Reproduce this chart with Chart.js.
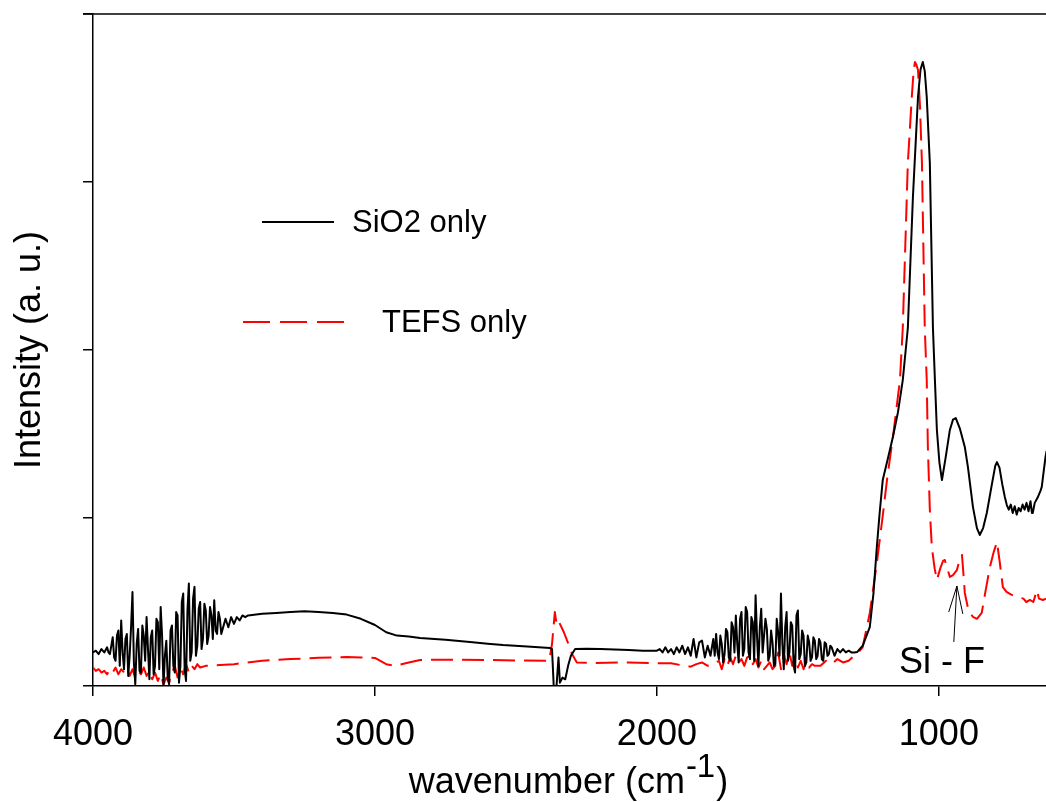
<!DOCTYPE html>
<html>
<head>
<meta charset="utf-8">
<script src="https://cdn.jsdelivr.net/npm/chart.js@4"></script>
<style>
  html, body { margin: 0; padding: 0; background: #fff; }
  canvas { display: block; }
</style>
</head>
<body>
<canvas id="grafica" width="1046" height="802"></canvas>
<script>
// SiO2 only (línea negra): [número de onda, intensidad]
const sio2Data = [
  [4000, 0.20], [3990, 0.21], [3980, 0.19], [3970, 0.22], [3960, 0.20], [3950, 0.23], [3945, 0.20],
  [3940, 0.19], [3935, 0.24], [3930, 0.29], [3925, 0.17], [3920, 0.15], [3915, 0.30], [3910, 0.33], [3905, 0.12],
  [3900, 0.39], [3895, 0.20], [3890, 0.10], [3885, 0.28], [3880, 0.31], [3875, 0.06], [3870, 0.18], [3865, 0.35],
  [3860, 0.56], [3855, 0.14], [3850, 0.01], [3845, 0.25], [3840, 0.34], [3835, 0.09], [3830, 0.08], [3825, 0.36],
  [3820, 0.30], [3815, 0.15], [3810, 0.41], [3805, 0.22], [3800, 0.04], [3795, 0.29], [3790, 0.33], [3785, 0.07],
  [3780, 0.12], [3775, 0.40], [3770, 0.38], [3765, 0.10], [3760, 0.47], [3755, 0.30], [3750, 0.00], [3745, 0.18],
  [3740, 0.27], [3735, 0.05], [3730, 0.01], [3725, 0.33], [3720, 0.36], [3715, 0.12], [3710, 0.08], [3705, 0.44],
  [3700, 0.42], [3695, 0.02], [3690, 0.12], [3685, 0.50], [3680, 0.55], [3675, 0.10], [3670, 0.03], [3665, 0.45],
  [3660, 0.61], [3655, 0.15], [3650, 0.20], [3645, 0.52], [3640, 0.59], [3635, 0.18], [3630, 0.24], [3625, 0.46],
  [3620, 0.50], [3615, 0.22], [3610, 0.28], [3605, 0.49], [3600, 0.45], [3595, 0.25], [3590, 0.30], [3585, 0.47],
  [3580, 0.42], [3575, 0.28], [3570, 0.51], [3565, 0.33], [3560, 0.31], [3555, 0.44], [3550, 0.40], [3545, 0.31],
  [3540, 0.34], [3530, 0.40], [3520, 0.35], [3510, 0.41], [3500, 0.37], [3490, 0.41], [3480, 0.39], [3470, 0.42],
  [3460, 0.41], [3450, 0.42], [3400, 0.43], [3350, 0.435], [3300, 0.44], [3250, 0.445], [3200, 0.44], [3150, 0.435],
  [3100, 0.425], [3050, 0.40], [3000, 0.363], [2960, 0.32], [2922, 0.30], [2880, 0.295], [2840, 0.286], [2750, 0.275],
  [2663, 0.262], [2600, 0.252], [2546, 0.244], [2460, 0.235], [2379, 0.226], [2372, 0.22], [2366, 0.0], [2356, 0.0],
  [2349, 0.17], [2344, 0.02], [2335, 0.05], [2325, 0.04], [2315, 0.12], [2305, 0.18], [2290, 0.22], [2250, 0.222],
  [2200, 0.22], [2100, 0.215], [2050, 0.21],
  [2000, 0.21], [1990, 0.22], [1980, 0.20], [1970, 0.23], [1960, 0.20], [1950, 0.22], [1940, 0.19], [1930, 0.23],
  [1920, 0.20], [1910, 0.24], [1900, 0.19], [1890, 0.23], [1880, 0.18], [1870, 0.28], [1860, 0.17], [1850, 0.26],
  [1840, 0.27], [1830, 0.17], [1820, 0.24], [1810, 0.18],
  [1800, 0.28], [1795, 0.18], [1790, 0.31], [1785, 0.20], [1780, 0.16], [1775, 0.30], [1770, 0.25], [1765, 0.14],
  [1760, 0.19], [1755, 0.34], [1750, 0.32], [1745, 0.17], [1740, 0.15], [1735, 0.38], [1730, 0.35], [1725, 0.20],
  [1720, 0.42], [1715, 0.25], [1710, 0.14], [1705, 0.40], [1700, 0.44], [1695, 0.18], [1690, 0.22], [1685, 0.47],
  [1680, 0.44], [1675, 0.20], [1670, 0.16], [1665, 0.41], [1660, 0.38], [1655, 0.15], [1650, 0.54], [1645, 0.30],
  [1640, 0.12], [1635, 0.35], [1630, 0.46], [1625, 0.20], [1620, 0.30], [1615, 0.40], [1610, 0.34], [1605, 0.15],
  [1600, 0.18], [1595, 0.33], [1590, 0.26], [1585, 0.12], [1580, 0.13], [1575, 0.40], [1570, 0.32], [1565, 0.18],
  [1560, 0.55], [1555, 0.25], [1550, 0.10], [1545, 0.35], [1540, 0.44], [1535, 0.15], [1530, 0.20], [1525, 0.38],
  [1520, 0.36], [1515, 0.12], [1510, 0.08], [1505, 0.42], [1500, 0.45], [1495, 0.16], [1490, 0.19], [1485, 0.33],
  [1480, 0.30], [1475, 0.12], [1470, 0.14], [1465, 0.30], [1460, 0.26], [1455, 0.15], [1450, 0.17], [1445, 0.29],
  [1440, 0.27], [1435, 0.16], [1430, 0.18], [1425, 0.28], [1420, 0.26], [1415, 0.16], [1410, 0.15], [1405, 0.26],
  [1400, 0.25], [1395, 0.18], [1390, 0.19], [1385, 0.24], [1380, 0.23],
  [1370, 0.18], [1360, 0.22], [1350, 0.20], [1340, 0.22], [1330, 0.20], [1320, 0.21], [1310, 0.20], [1300, 0.20],
  [1290, 0.202], [1270, 0.24], [1245, 0.351], [1232, 0.55], [1220, 0.827], [1210, 1.03], [1199, 1.226], [1180, 1.36],
  [1163, 1.482], [1145, 1.63], [1128, 1.821], [1110, 2.131], [1092, 2.911], [1074, 3.506], [1065, 3.67], [1057, 3.714],
  [1050, 3.66], [1043, 3.506], [1032, 3.113], [1021, 2.131], [1014, 1.821], [1007, 1.524], [998, 1.33], [989, 1.226],
  [975, 1.37], [961, 1.524], [950, 1.585], [940, 1.595], [925, 1.53], [908, 1.423], [897, 1.304], [879, 1.065],
  [865, 0.94], [855, 0.899], [843, 0.94], [830, 1.03], [812, 1.2], [800, 1.31], [794, 1.333], [785, 1.30],
  [775, 1.2], [766, 1.125], [759, 1.077], [752, 1.05], [745, 1.08], [738, 1.03], [731, 1.07], [724, 1.02],
  [717, 1.06], [710, 1.04], [703, 1.08], [696, 1.05], [689, 1.09], [682, 1.04], [675, 1.10], [670, 1.03],
  [667, 1.03], [660, 1.09], [650, 1.12], [640, 1.16], [635, 1.185], [628, 1.28], [622, 1.36], [618, 1.40]
];

// TEFS only (línea roja discontinua)
const tefsData = [
  [4000, 0.11], [3990, 0.09], [3980, 0.10], [3970, 0.08], [3960, 0.09], [3950, 0.07], [3940, 0.10], [3930, 0.08],
  [3920, 0.11], [3910, 0.07], [3900, 0.10], [3890, 0.08], [3880, 0.11], [3870, 0.06], [3860, 0.10], [3850, 0.05],
  [3840, 0.09], [3830, 0.07], [3820, 0.11], [3810, 0.06], [3800, 0.09], [3790, 0.04], [3780, 0.08], [3770, 0.03],
  [3760, 0.07], [3750, 0.01], [3740, 0.05], [3730, 0.02], [3720, 0.08], [3710, 0.12], [3700, 0.05], [3690, 0.11],
  [3680, 0.07], [3670, 0.13], [3660, 0.08], [3650, 0.12], [3640, 0.10], [3630, 0.13], [3620, 0.11], [3600, 0.12],
  [3550, 0.125], [3500, 0.13], [3400, 0.15], [3300, 0.16], [3200, 0.168], [3100, 0.172], [3050, 0.17], [3000, 0.167],
  [2960, 0.13], [2930, 0.12], [2880, 0.14], [2840, 0.155], [2700, 0.157], [2500, 0.152], [2382, 0.15], [2372, 0.25],
  [2362, 0.44], [2355, 0.36], [2347, 0.38], [2330, 0.32], [2316, 0.26], [2301, 0.19], [2284, 0.14], [2238, 0.137],
  [2100, 0.14], [2000, 0.135], [1950, 0.135], [1900, 0.12], [1880, 0.115], [1860, 0.13], [1840, 0.14], [1820, 0.12],
  [1800, 0.13], [1780, 0.15], [1770, 0.10], [1760, 0.16], [1750, 0.12], [1740, 0.17], [1730, 0.13], [1720, 0.18],
  [1710, 0.14], [1700, 0.16], [1690, 0.12], [1680, 0.17], [1670, 0.18], [1660, 0.13], [1650, 0.16], [1640, 0.11],
  [1630, 0.15], [1620, 0.10], [1610, 0.12], [1600, 0.14], [1590, 0.10], [1580, 0.12], [1570, 0.20], [1560, 0.10],
  [1550, 0.19], [1540, 0.13], [1530, 0.20], [1520, 0.12], [1510, 0.18], [1500, 0.11], [1490, 0.15], [1480, 0.10],
  [1470, 0.14], [1460, 0.11], [1450, 0.13], [1440, 0.12], [1420, 0.12], [1400, 0.15], [1380, 0.13], [1360, 0.16],
  [1340, 0.14], [1320, 0.15], [1305, 0.173], [1290, 0.19], [1270, 0.232], [1245, 0.435], [1220, 0.732], [1200, 1.0],
  [1184, 1.226], [1160, 1.52], [1138, 1.821], [1128, 2.131], [1110, 3.113], [1096, 3.506], [1090, 3.65], [1085, 3.714],
  [1080, 3.70], [1074, 3.667], [1067, 3.45], [1060, 3.113], [1050, 2.131], [1043, 1.821], [1039, 1.423], [1032, 1.05],
  [1025, 0.827], [1015, 0.70], [1007, 0.631], [995, 0.70], [985, 0.745], [979, 0.75], [970, 0.70], [961, 0.649],
  [950, 0.66], [936, 0.69], [925, 0.76], [918, 0.78], [912, 0.65], [908, 0.554], [895, 0.45], [879, 0.411],
  [865, 0.40], [848, 0.435], [835, 0.56], [819, 0.708], [805, 0.80], [794, 0.857], [785, 0.75], [773, 0.589],
  [760, 0.56], [745, 0.545], [723, 0.530], [700, 0.52], [690, 0.50], [677, 0.512], [665, 0.50], [652, 0.571],
  [645, 0.52], [631, 0.512], [620, 0.52]
];

const xTicks = [4000, 3000, 2000, 1000];
const yTicks = [0, 1, 2, 3, 4];
const seriesNames = ["SiO2 only", "TEFS only"];

const FONT = "'Liberation Sans', Arial, sans-serif";

function toPoints(pairs) {
  return pairs.map(p => ({ x: p[0], y: p[1] }));
}

// Leyenda, flecha Si-F, marco superior y título del eje x con superíndice
const extras = {
  id: "extras",
  afterDraw(chart) {
    const { ctx, chartArea: a, scales } = chart;
    const sx = scales.x, sy = scales.y;
    ctx.save();

    // marco superior
    ctx.strokeStyle = "#000";
    ctx.lineWidth = 1.5;
    ctx.beginPath();
    ctx.moveTo(a.left - 10, a.top);
    ctx.lineTo(a.right, a.top);
    ctx.stroke();

    // leyenda
    const ds = chart.data.datasets;
    const rows = [
      { x0: 262, x1: 334, y: 222, tx: 352 },
      { x0: 243, x1: 344, y: 322, tx: 382 }
    ];
    ctx.font = "31px " + FONT;
    ctx.fillStyle = "#000";
    ctx.textBaseline = "middle";
    rows.forEach((r, i) => {
      ctx.strokeStyle = ds[i].borderColor;
      ctx.lineWidth = 2;
      ctx.setLineDash(i === 1 ? [27, 10] : []);
      ctx.beginPath();
      ctx.moveTo(r.x0, r.y);
      ctx.lineTo(r.x1, r.y);
      ctx.stroke();
      ctx.setLineDash([]);
      ctx.fillText(ds[i].label, r.tx, r.y + 1);
    });

    // anotación Si - F
    ctx.strokeStyle = "#000";
    ctx.lineWidth = 1;
    ctx.beginPath();
    ctx.moveTo(sx.getPixelForValue(947), sy.getPixelForValue(0.262));
    ctx.lineTo(sx.getPixelForValue(936), sy.getPixelForValue(0.595));
    ctx.moveTo(sx.getPixelForValue(965), sy.getPixelForValue(0.44));
    ctx.lineTo(sx.getPixelForValue(936), sy.getPixelForValue(0.595));
    ctx.lineTo(sx.getPixelForValue(915), sy.getPixelForValue(0.429));
    ctx.stroke();
    ctx.font = "36px " + FONT;
    ctx.textAlign = "center";
    ctx.textBaseline = "alphabetic";
    ctx.fillText("Si - F", sx.getPixelForValue(989), sy.getPixelForValue(0.077));

    // título eje x
    const main = "wavenumber (cm", sup = "-1", close = ")";
    ctx.textAlign = "left";
    ctx.font = "36px " + FONT;
    const w1 = ctx.measureText(main).width;
    const w3 = ctx.measureText(close).width;
    ctx.font = "33px " + FONT;
    const w2 = ctx.measureText(sup).width;
    const start = (a.left + a.right) / 2 - (w1 + w2 + w3) / 2 - 2;
    const base = 793;
    ctx.font = "36px " + FONT;
    ctx.fillText(main, start, base);
    ctx.font = "33px " + FONT;
    ctx.fillText(sup, start + w1 + 1, base - 16);
    ctx.font = "36px " + FONT;
    ctx.fillText(close, start + w1 + w2 + 2, base);

    ctx.restore();
  }
};

const ctx = document.getElementById("grafica").getContext("2d");

new Chart(ctx, {
  type: "line",
  data: {
    datasets: [
      {
        label: seriesNames[0],
        data: toPoints(sio2Data),
        borderColor: "#000000",
        borderWidth: 2,
        pointRadius: 0,
        tension: 0,
        borderJoinStyle: "round"
      },
      {
        label: seriesNames[1],
        data: toPoints(tefsData),
        borderColor: "#ff0000",
        borderWidth: 2,
        borderDash: [22, 9],
        pointRadius: 0,
        tension: 0,
        borderJoinStyle: "round"
      }
    ]
  },
  options: {
    responsive: false,
    animation: false,
    layout: { padding: { top: 14, left: 0, right: 0, bottom: 0 } },
    plugins: {
      legend: { display: false },
      tooltip: { enabled: false }
    },
    scales: {
      x: {
        type: "linear",
        reverse: true,
        min: 620,
        max: 4000,
        afterBuildTicks: s => { s.ticks = xTicks.map(v => ({ value: v })); },
        afterFit: s => { s.height = 116; },
        ticks: {
          color: "#000",
          font: { family: FONT, size: 36 },
          padding: 17,
          maxRotation: 0,
          autoSkip: false,
          callback: v => String(v)
        },
        grid: { drawOnChartArea: false, drawTicks: true, tickLength: 10, color: "#000", lineWidth: 1.5 },
        border: { display: true, color: "#000", width: 1.5 }
      },
      y: {
        min: 0,
        max: 4,
        afterBuildTicks: s => { s.ticks = yTicks.map(v => ({ value: v })); },
        afterFit: s => { s.width = 93; },
        ticks: { display: false },
        grid: { drawOnChartArea: false, drawTicks: true, tickLength: 10, color: "#000", lineWidth: 1.5 },
        border: { display: true, color: "#000", width: 1.5 },
        title: {
          display: true,
          text: "Intensity (a. u.)",
          color: "#000",
          font: { family: FONT, size: 36 },
          padding: { top: 8, bottom: 0 }
        }
      }
    }
  },
  plugins: [extras]
});
</script>
</body>
</html>
